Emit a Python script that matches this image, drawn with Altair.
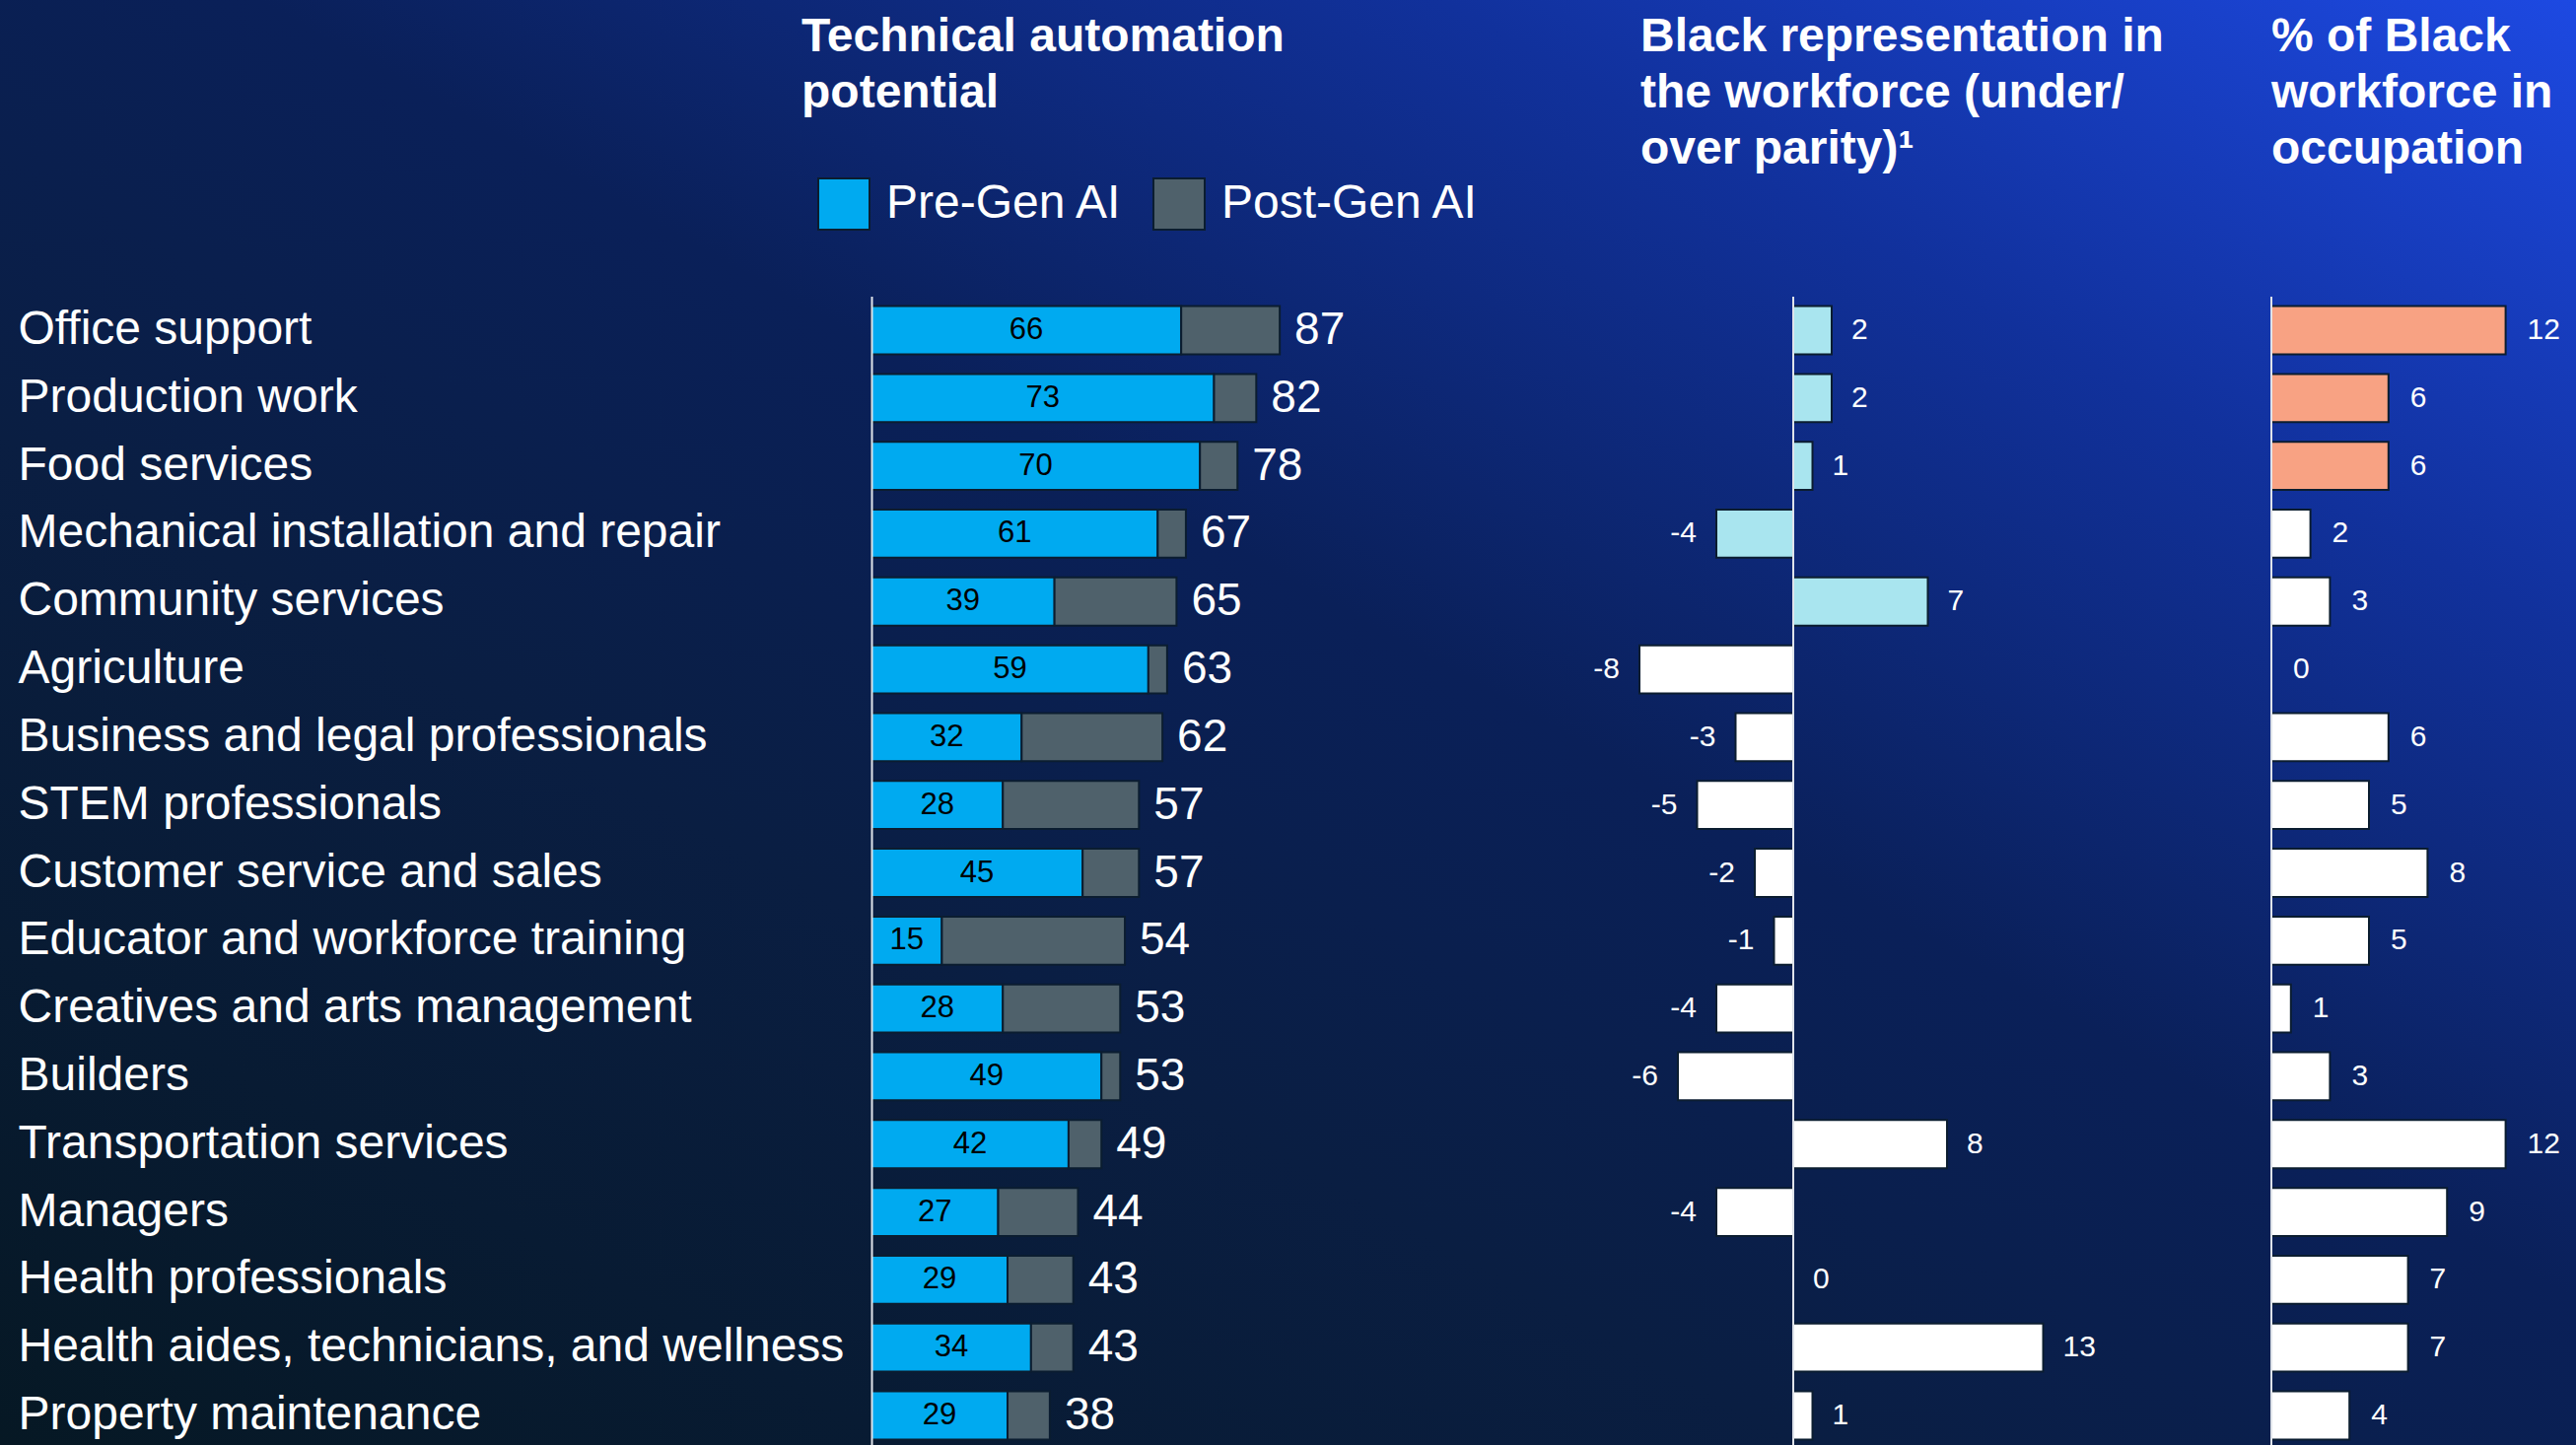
import altair as alt
import pandas as pd

# ---------------- data ----------------
occupations = [
    "Office support",
    "Production work",
    "Food services",
    "Mechanical installation and repair",
    "Community services",
    "Agriculture",
    "Business and legal professionals",
    "STEM professionals",
    "Customer service and sales",
    "Educator and workforce training",
    "Creatives and arts management",
    "Builders",
    "Transportation services",
    "Managers",
    "Health professionals",
    "Health aides, technicians, and wellness",
    "Property maintenance",
]
pre_gen_ai = [66, 73, 70, 61, 39, 59, 32, 28, 45, 15, 28, 49, 42, 27, 29, 34, 29]
post_gen_ai = [87, 82, 78, 67, 65, 63, 62, 57, 57, 54, 53, 53, 49, 44, 43, 43, 38]
representation_vs_parity = [2, 2, 1, -4, 7, -8, -3, -5, -2, -1, -4, -6, 8, -4, 0, 13, 1]
share_of_black_workforce = [12, 6, 6, 2, 3, 0, 6, 5, 8, 5, 1, 3, 12, 9, 7, 7, 4]
series_names = ["Pre-Gen AI", "Post-Gen AI"]
headers = [
    ["Technical automation", "potential"],
    ["Black representation in", "the workforce (under/", "over parity)\u00b9"],
    ["% of Black", "workforce in", "occupation"],
]

# ---------------- styling / layout ----------------
W, H = 2613, 1466
FONT = "Liberation Sans"
PRE_COLOR = "#00aaf0"
POST_COLOR = "#4f616b"
PARITY_HI = "#a9e5ef"
SHARE_HI = "#f8a283"
OUTLINE = "#0b1d30"
AXIS_LINE = "#dfe3ea"
N_PARITY_HI = 5
N_SHARE_HI = 3

df = pd.DataFrame({
    "occupation": occupations,
    "pre": pre_gen_ai,
    "post": post_gen_ai,
    "parity": representation_vs_parity,
    "share": share_of_black_workforce,
})
df["rank"] = range(len(df))
df["zero"] = 0
df["pre_mid"] = df["pre"] / 2
df["parity_label"] = [str(v) for v in representation_vs_parity]
df["share_label"] = [str(v) for v in share_of_black_workforce]

seg_rows = []
for occ, a, b in zip(occupations, pre_gen_ai, post_gen_ai):
    seg_rows.append({"occupation": occ, "series": series_names[0], "start": 0, "end": a})
    seg_rows.append({"occupation": occ, "series": series_names[1], "start": a, "end": b})
seg = pd.DataFrame(seg_rows)

one = pd.DataFrame({"zero": [0]})

x1 = alt.Scale(domain=[0, 100], range=[884, 1360], nice=False, zero=False)
x2 = alt.Scale(domain=[-10, 14], range=[1624, 2092], nice=False, zero=False)
x3 = alt.Scale(domain=[0, 15], range=[2304, 2601], nice=False, zero=False)

Y = alt.Y(
    "occupation:N",
    sort=occupations,
    title=None,
    scale=alt.Scale(range=[300.6, 1470.4], paddingInner=0.29, paddingOuter=0.145),
    axis=alt.Axis(
        orient="left",
        offset=-884,
        zindex=2,
        domain=True,
        domainColor=AXIS_LINE,
        domainWidth=2,
        ticks=False,
        tickSize=0,
        grid=False,
        labelAlign="left",
        labelPadding=866,
        labelFont=FONT,
        labelFontSize=48,
        labelColor="white",
        labelLimit=900,
        labelOverlap=False,
    ),
)

gradient = {
    "gradient": "linear",
    "x1": 0, "y1": 1, "x2": 1, "y2": 0,
    "stops": [
        {"offset": 0, "color": "#061824"},
        {"offset": 0.35, "color": "#0a1e42"},
        {"offset": 0.55, "color": "#0a2059"},
        {"offset": 0.78, "color": "#11319c"},
        {"offset": 1, "color": "#1d49e2"},
    ],
}

bg = alt.Chart(one).mark_rect(fill=gradient).encode(
    x=alt.value(0), x2=alt.value(W), y=alt.value(0), y2=alt.value(H)
)

# ---- panel 1: technical automation potential ----
bars1 = alt.Chart(seg).mark_bar(stroke=OUTLINE, strokeWidth=2, opacity=1).encode(
    x=alt.X("start:Q", scale=x1, axis=None),
    x2="end:Q",
    y=Y,
    color=alt.Color(
        "series:N",
        scale=alt.Scale(domain=series_names, range=[PRE_COLOR, POST_COLOR]),
        legend=alt.Legend(
            title=None,
            orient="none",
            legendX=829,
            legendY=180,
            direction="horizontal",
            padding=0,
            symbolType="square",
            symbolSize=2704,
            symbolStrokeColor=OUTLINE,
            symbolStrokeWidth=2,
            symbolOpacity=1,
            labelFont=FONT,
            labelFontSize=48,
            labelColor="white",
            labelOffset=16,
            labelLimit=400,
            columnPadding=26,
        ),
    ),
)

inner1 = alt.Chart(df).mark_text(
    font=FONT, fontSize=31, color="black", align="center", baseline="middle"
).encode(x=alt.X("pre_mid:Q", scale=x1, axis=None), y=Y, text="pre:Q")

totals1 = alt.Chart(df).mark_text(
    font=FONT, fontSize=46, color="white", align="left", baseline="middle", dx=15
).encode(x=alt.X("post:Q", scale=x1, axis=None), y=Y, text="post:Q")

# ---- panel 2: representation vs parity ----
bars2 = alt.Chart(df).mark_bar(stroke=OUTLINE, strokeWidth=2, opacity=1).encode(
    x=alt.X("zero:Q", scale=x2, axis=None),
    x2="parity:Q",
    y=Y,
    fill=alt.condition(f"datum.rank < {N_PARITY_HI}", alt.value(PARITY_HI), alt.value("white")),
)
rule2 = alt.Chart(one).mark_rule(color=AXIS_LINE, strokeWidth=2).encode(
    x=alt.X("zero:Q", scale=x2, axis=None), y=alt.value(301), y2=alt.value(H)
)
lab2p = alt.Chart(df).transform_filter("datum.parity >= 0").mark_text(
    font=FONT, fontSize=30, color="white", align="left", baseline="middle", dx=20
).encode(x=alt.X("parity:Q", scale=x2, axis=None), y=Y, text="parity_label:N")
lab2n = alt.Chart(df).transform_filter("datum.parity < 0").mark_text(
    font=FONT, fontSize=30, color="white", align="right", baseline="middle", dx=-20
).encode(x=alt.X("parity:Q", scale=x2, axis=None), y=Y, text="parity_label:N")

# ---- panel 3: share of Black workforce ----
bars3 = alt.Chart(df).mark_bar(stroke=OUTLINE, strokeWidth=2, opacity=1).encode(
    x=alt.X("zero:Q", scale=x3, axis=None),
    x2="share:Q",
    y=Y,
    fill=alt.condition(f"datum.rank < {N_SHARE_HI}", alt.value(SHARE_HI), alt.value("white")),
)
rule3 = alt.Chart(one).mark_rule(color=AXIS_LINE, strokeWidth=2).encode(
    x=alt.X("zero:Q", scale=x3, axis=None), y=alt.value(301), y2=alt.value(H)
)
lab3 = alt.Chart(df).mark_text(
    font=FONT, fontSize=30, color="white", align="left", baseline="middle", dx=22
).encode(x=alt.X("share:Q", scale=x3, axis=None), y=Y, text="share_label:N")

# ---- headers ----
def header(lines, xpos):
    return alt.Chart(one).mark_text(
        text=lines, font=FONT, fontSize=48, fontWeight="bold", color="white",
        align="left", baseline="alphabetic", lineHeight=57,
    ).encode(x=alt.value(xpos), y=alt.value(52))

h1 = header(headers[0], 813)
h2 = header(headers[1], 1664)
h3 = header(headers[2], 2304)

chart = alt.layer(
    bg, bars1, inner1, totals1, bars2, rule2, lab2p, lab2n, bars3, rule3, lab3, h1, h2, h3
).resolve_scale(x="independent").properties(
    width=W,
    height=H,
    autosize=alt.AutoSizeParams(type="none"),
    padding=0,
    background="#0a1f45",
).configure_view(strokeWidth=0).configure(font=FONT)

chart.save("out.html", embed_options={"renderer": "svg", "actions": False})
